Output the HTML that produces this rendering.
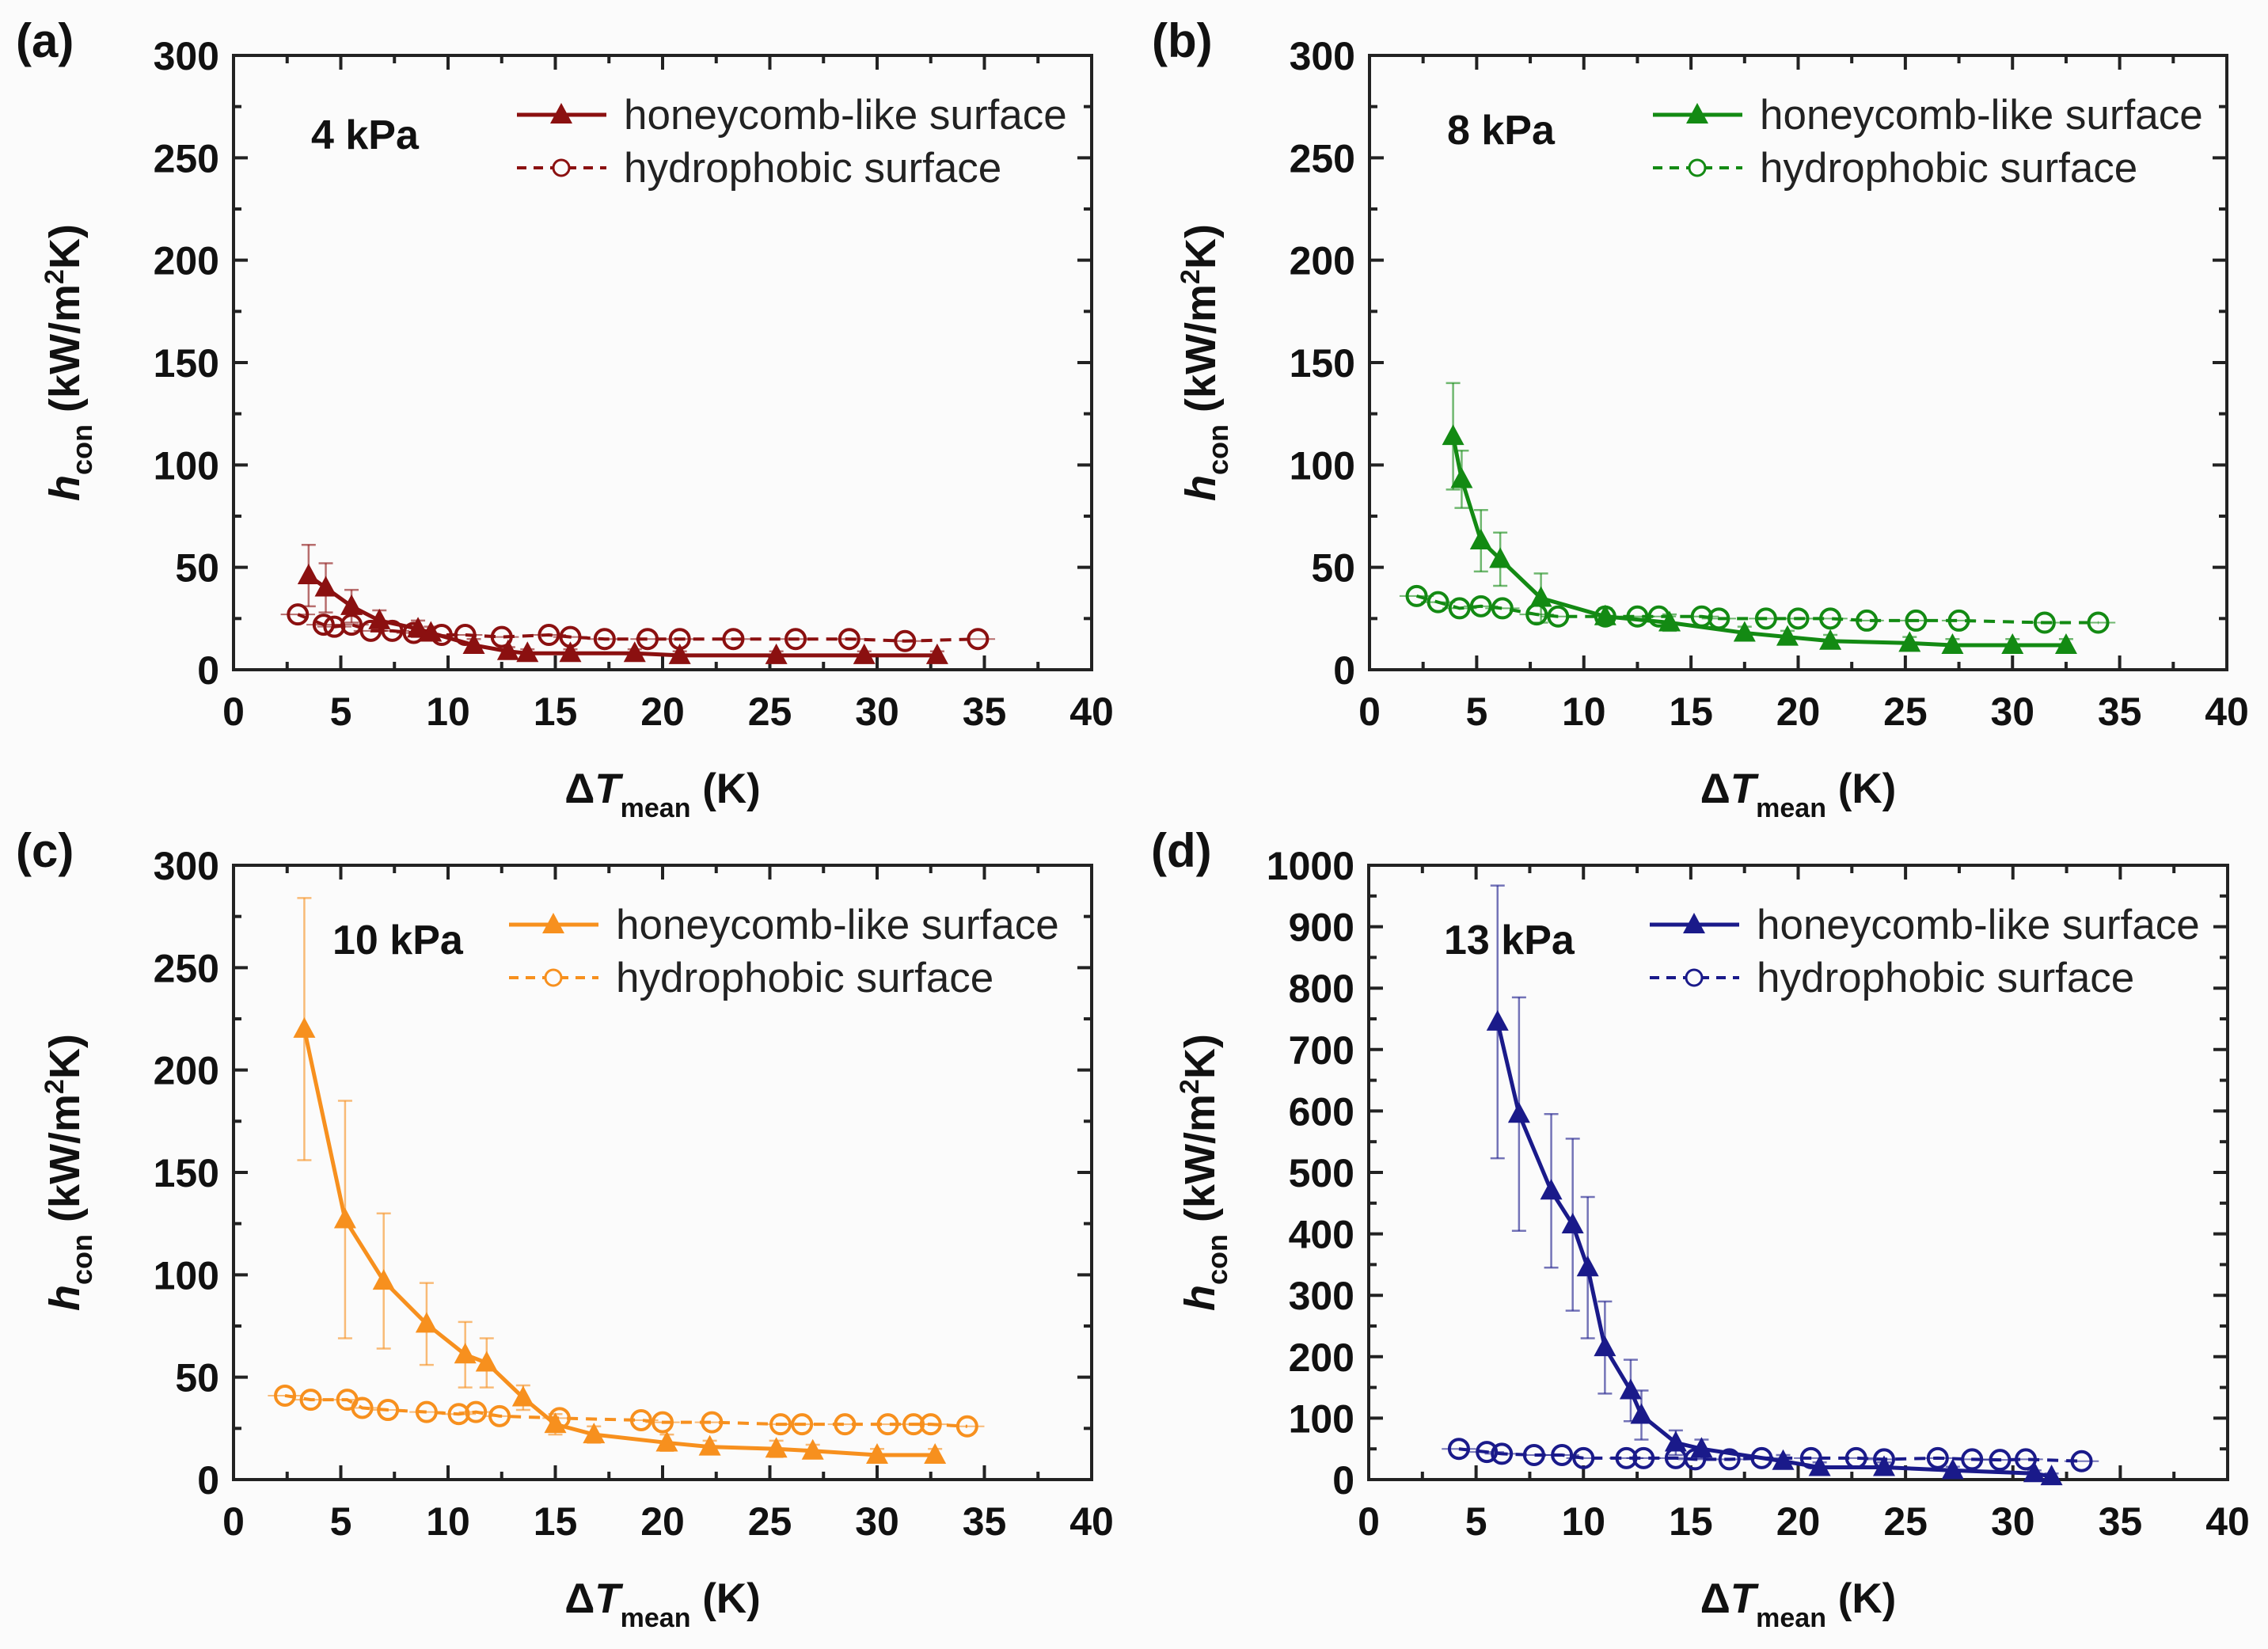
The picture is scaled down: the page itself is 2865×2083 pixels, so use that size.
<!DOCTYPE html>
<html><head><meta charset="utf-8">
<style>
html,body{margin:0;padding:0;background:#fff;}
svg{display:block;font-family:"Liberation Sans",Arial,sans-serif;}
</style></head>
<body>
<svg id="fig" width="2865" height="2083" viewBox="0 0 2865 2083" xmlns="http://www.w3.org/2000/svg">
<rect x="0" y="0" width="2865" height="2083" fill="#fbfbfb"/>
</svg>
<script>
// Panel (a) 4 kPa
const aHoneyX=[3.5,4.3,5.5,6.8,8.6,9.2,11.2,12.8,13.7,15.7,18.7,20.8,25.3,29.4,32.8];
const aHoneyY=[46,40,31,24,20,18,12,9,8,8,8,7,7,7,7];
const aHoneyErr=[15,12,8,5,4,3,3,2,2,2,2,2,2,2,2];
const aHydroX=[3,4.2,4.7,5.5,6.4,7.4,8.4,9.7,10.8,12.5,14.7,15.7,17.3,19.3,20.8,23.3,26.2,28.7,31.3,34.7];
const aHydroY=[27,22,21,22,19,19,18,17,17,16,17,16,15,15,15,15,15,15,14,15];
// Panel (b) 8 kPa
const bHoneyX=[3.9,4.3,5.2,6.1,8,11,14,17.5,19.5,21.5,25.2,27.2,30,32.5];
const bHoneyY=[114,93,63,54,35,26,23,18,16,14,13,12,12,12];
const bHoneyErr=[26,14,15,13,12,4,4,3,3,3,3,3,3,3];
const bHydroX=[2.2,3.2,4.2,5.2,6.2,7.8,8.8,11,12.5,13.5,15.5,16.3,18.5,20,21.5,23.2,25.5,27.5,31.5,34];
const bHydroY=[36,33,30,31,30,27,26,26,26,26,26,25,25,25,25,24,24,24,23,23];
// Panel (c) 10 kPa
const cHoneyX=[3.3,5.2,7,9,10.8,11.8,13.5,15,16.8,20.2,22.2,25.3,27,30,32.7];
const cHoneyY=[220,127,97,76,61,57,40,27,22,18,16,15,14,12,12];
const cHoneyErr=[64,58,33,20,16,12,6,5,4,4,3,4,3,3,3];
const cHydroX=[2.4,3.6,5.3,6,7.2,9,10.5,11.3,12.4,15.2,19,20,22.3,25.5,26.5,28.5,30.5,31.7,32.5,34.2];
const cHydroY=[41,39,39,35,34,33,32,33,31,30,29,28,28,27,27,27,27,27,27,26];
// Panel (d) 13 kPa
const dHoneyX=[6,7,8.5,9.5,10.2,11,12.2,12.7,14.3,15.5,19.3,21,24,27.2,31,31.8];
const dHoneyY=[745,595,470,415,345,215,145,105,60,50,30,20,20,15,10,5];
const dHoneyErr=[222,190,125,140,115,75,50,40,20,15,10,8,8,6,5,5];
const dHydroX=[4.2,5.5,6.2,7.7,9,10,12,12.8,14.3,15.2,16.8,18.3,20.6,22.7,24,26.5,28.1,29.4,30.6,33.2];
const dHydroY=[50,45,42,40,40,35,35,35,35,33,33,35,35,35,33,35,33,32,33,30];
// axis ticks
const xTicks=[0,5,10,15,20,25,30,35,40];
const yTicks300=[0,50,100,150,200,250,300];
const yTicks1000=[0,100,200,300,400,500,600,700,800,900,1000];

const NS="http://www.w3.org/2000/svg";
const svg=document.getElementById('fig');
function mk(tag,attrs,parent,text){
  const e=document.createElementNS(NS,tag);
  for(const k in attrs)e.setAttribute(k,attrs[k]);
  if(text!==undefined)e.textContent=text;
  (parent||svg).appendChild(e);return e;
}
function panel(p){
  const g=mk('g',{});
  
  
  const L=p.x0,R=p.x1,T=p.y0,B=p.y1;
  const sx=v=>L+(v-0)/(40-0)*(R-L);
  const sy=v=>B-(v/p.ymax)*(B-T);
  const tg=mk('g',{stroke:'#222','stroke-width':4},g);
  
  
  for(let v=0;v<=40;v+=2.5){
    const major=(v%5===0);const len=major?18:10;const x=sx(v);
    mk('line',{x1:x,y1:B,x2:x,y2:B-len},tg);
    mk('line',{x1:x,y1:T,x2:x,y2:T+len},tg);
  }
  const ystep=p.yt[1]-p.yt[0];
  for(let v=0;v<=p.ymax+1e-9;v+=ystep/2){
    const major=Math.abs(v/ystep-Math.round(v/ystep))<1e-6;const len=major?18:10;const y=sy(v);
    mk('line',{x1:L,y1:y,x2:L+len,y2:y},tg);
    mk('line',{x1:R,y1:y,x2:R-len,y2:y},tg);
  }
  const frame=mk('rect',{x:L,y:T,width:R-L,height:B-T,fill:'none',stroke:'#222','stroke-width':4},g);
  
  
  xTicks.forEach(v=>{
    const t=mk('text',{x:sx(v),y:B+70,'text-anchor':'middle','font-size':50,'font-weight':'bold',fill:'#111'},g,String(v));
    
    
  });
  p.yt.forEach(v=>{
    const t=mk('text',{x:L-18,y:sy(v)+18,'text-anchor':'end','font-size':50,'font-weight':'bold',fill:'#111'},g,String(v));
    
    
  });
  const xt=mk('text',{x:(L+R)/2,y:B+168,'text-anchor':'middle','font-size':53,'font-weight':'bold',fill:'#111'},g);
  
  
  xt.innerHTML='Δ<tspan font-style="italic">T</tspan><tspan font-size="34" dy="18">mean</tspan><tspan dy="-18"> (K)</tspan>';
  const yt=mk('text',{transform:`translate(${L-195},${(T+B)/2}) rotate(-90)`,'text-anchor':'middle','font-size':54,'font-weight':'bold',fill:'#111'},g);
  
  
  yt.innerHTML='<tspan font-style="italic">h</tspan><tspan font-size="36" dy="16">con</tspan><tspan dy="-16">  (kW/m</tspan><tspan font-size="34" dy="-20">2</tspan><tspan dy="20">K)</tspan>';
  const pl=mk('text',{x:p.x0-275,y:T+2,'font-size':60,'font-weight':'bold',fill:'#111'},g,'('+p.id+')');
  
  
  const pr=mk('text',{x:L+p.prx,y:T+p.pry,'font-size':52,'font-weight':'bold',fill:'#111'},g,p.pressure);
  
  
  const c=p.color;
  const hg=mk('g',{},g);
  
  
  mk('polyline',{points:p.hx.map((x,i)=>sx(x)+','+sy(p.hy[i])).join(' '),fill:'none',stroke:c,'stroke-width':4,'stroke-dasharray':'14,10'},hg);
  p.hx.forEach((x,i)=>{
    mk('line',{x1:sx(x-0.8),y1:sy(p.hy[i]),x2:sx(x+0.8),y2:sy(p.hy[i]),stroke:c,'stroke-width':2,opacity:0.6},hg);
    const m=mk('circle',{cx:sx(x),cy:sy(p.hy[i]),r:12,fill:'none',stroke:c,'stroke-width':4},hg);
    
    
  });
  const cg=mk('g',{},g);
  
  
  p.cx.forEach((x,i)=>{
    const e=p.ce[i],y=p.cy[i];
    mk('line',{x1:sx(x),y1:sy(y+e),x2:sx(x),y2:sy(Math.max(0,y-e)),stroke:c,'stroke-width':2.5,opacity:0.6},cg);
    mk('line',{x1:sx(x)-9,y1:sy(y+e),x2:sx(x)+9,y2:sy(y+e),stroke:c,'stroke-width':2.5,opacity:0.6},cg);
    mk('line',{x1:sx(x)-9,y1:sy(Math.max(0,y-e)),x2:sx(x)+9,y2:sy(Math.max(0,y-e)),stroke:c,'stroke-width':2.5,opacity:0.6},cg);
  });
  mk('polyline',{points:p.cx.map((x,i)=>sx(x)+','+sy(p.cy[i])).join(' '),fill:'none',stroke:c,'stroke-width':5},cg);
  p.cx.forEach((x,i)=>{
    const X=sx(x),Y=sy(p.cy[i]);
    const m=mk('polygon',{points:`${X},${Y-15} ${X-14},${Y+11} ${X+14},${Y+11}`,fill:c},cg);
    
    
  });
  const lg=mk('g',{},g);
  
  
  const lx=L+p.lgx, ly1=T+p.lgy, ly2=ly1+67;
  mk('line',{x1:lx,y1:ly1,x2:lx+113,y2:ly1,stroke:c,'stroke-width':5},lg);
  mk('polygon',{points:`${lx+56},${ly1-15} ${lx+42},${ly1+11} ${lx+70},${ly1+11}`,fill:c},lg);
  const t1=mk('text',{x:lx+135,y:ly1+18,'font-size':53,fill:'#222'},lg,'honeycomb-like surface');
  
  
  mk('line',{x1:lx,y1:ly2,x2:lx+113,y2:ly2,stroke:c,'stroke-width':4,'stroke-dasharray':'12,9'},lg);
  mk('circle',{cx:lx+56,cy:ly2,r:10,fill:'#fbfbfb',stroke:c,'stroke-width':3},lg);
  const t2=mk('text',{x:lx+135,y:ly2+18,'font-size':53,fill:'#222'},lg,'hydrophobic surface');
  
  
}
panel({id:'a',x0:295,x1:1379,y0:70,y1:846,ymax:300,yt:yTicks300,color:'#8b1010',pressure:'4 kPa',prx:98,pry:118,lgx:358,lgy:75,
  cx:aHoneyX,cy:aHoneyY,ce:aHoneyErr,hx:aHydroX,hy:aHydroY});
panel({id:'b',x0:1730,x1:2813,y0:70,y1:846,ymax:300,yt:yTicks300,color:'#138a13',pressure:'8 kPa',prx:98,pry:112,lgx:358,lgy:75,
  cx:bHoneyX,cy:bHoneyY,ce:bHoneyErr,hx:bHydroX,hy:bHydroY});
panel({id:'c',x0:295,x1:1379,y0:1093,y1:1869,ymax:300,yt:yTicks300,color:'#f7901e',pressure:'10 kPa',prx:125,pry:112,lgx:348,lgy:75,
  cx:cHoneyX,cy:cHoneyY,ce:cHoneyErr,hx:cHydroX,hy:cHydroY});
panel({id:'d',x0:1729,x1:2814,y0:1093,y1:1869,ymax:1000,yt:yTicks1000,color:'#1a1a8a',pressure:'13 kPa',prx:95,pry:112,lgx:355,lgy:75,
  cx:dHoneyX,cy:dHoneyY,ce:dHoneyErr,hx:dHydroX,hy:dHydroY});
</script>
</body></html>
